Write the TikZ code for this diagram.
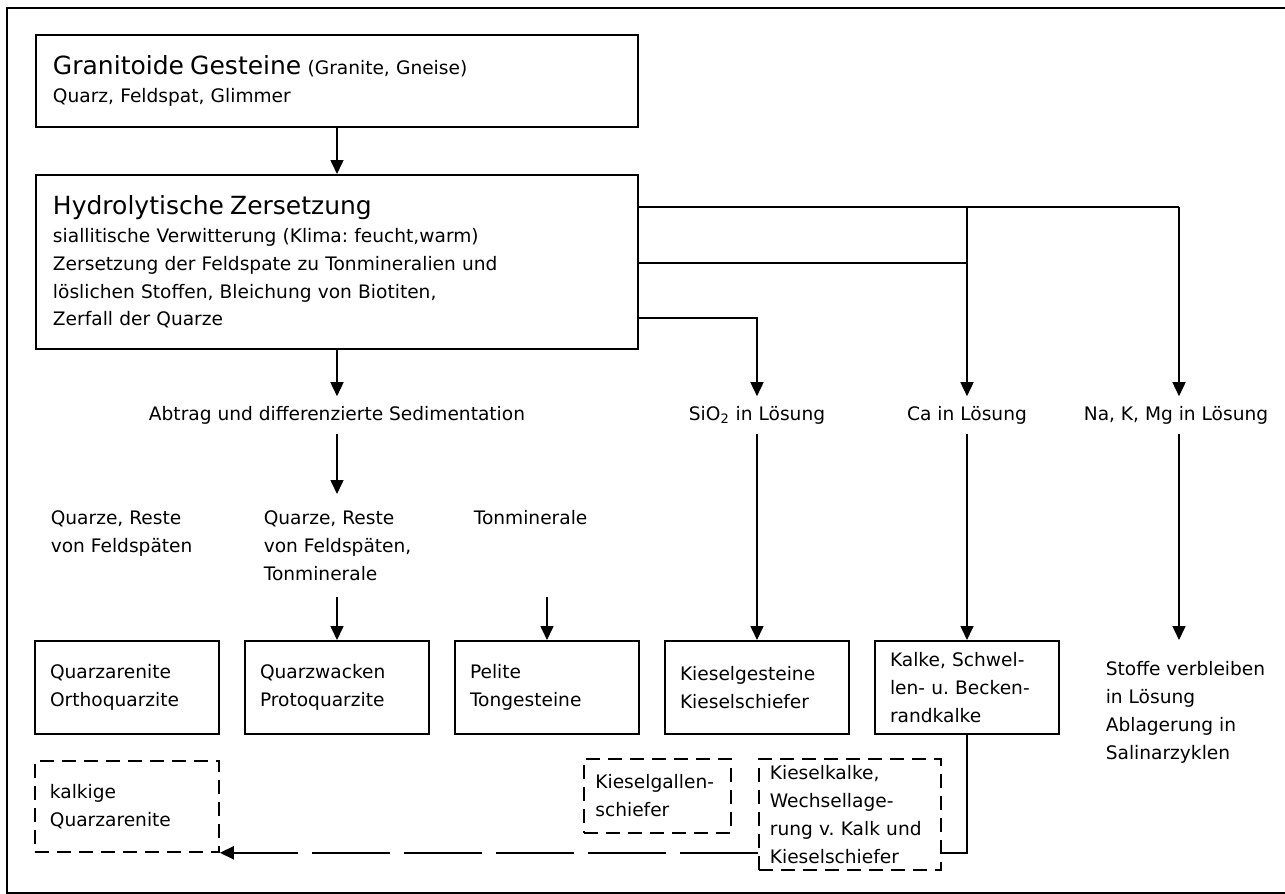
\documentclass[tikz,border=0pt]{standalone}
\usepackage{fontspec}
\setmainfont{DejaVu Sans}
\usetikzlibrary{arrows.meta,positioning}

\newcommand\hdfont{\fontsize{12.5}{15}\selectfont}

\begin{document}
\frenchspacing
\begin{tikzpicture}[
  x=0.5pt,y=-0.5pt,
  font=\fontsize{9.3}{13.9}\selectfont,
  line width=.8pt,
  box/.style={draw,line width=1pt,align=left,inner xsep=8.5pt,inner ysep=0pt},
  sbox/.style={box,text width=77pt,minimum height=46.5pt,inner xsep=7.5pt},
  dbox/.style={sbox,line width=.9pt,dash pattern=on 7pt off 4pt},
  txt/.style={align=left,inner xsep=0pt,inner ysep=8pt},
  row/.style={inner ysep=4.5pt},
  >/.tip={Triangle[length=7pt,width=6.5pt]},every edge/.style={draw,->}
]
\useasboundingbox (0,0) rectangle (1285,894);
\draw[line width=1pt] (1300,8) -- (7,8) -- (7,893) -- (1300,893);

% Ausgangsgestein und Verwitterung
\node[box,text width=284pt,minimum height=46pt,anchor=north west] (gran) at (35,34)
  {{\hdfont Granitoide Gesteine} (Granite, Gneise)\\Quarz, Feldspat, Glimmer};
\node[box,text width=284pt,minimum height=87pt,below=23pt of gran] (hydro)
  {{\hdfont Hydrolytische Zersetzung}\\siallitische Verwitterung (Klima: feucht,warm)\\
   Zersetzung der Feldspate zu Tonmineralien und\\löslichen Stoffen, Bleichung von Biotiten,\\
   Zerfall der Quarze};

% Gesteine
\node[sbox,anchor=north west] (qa) at (34,640) {Quarzarenite\\Orthoquarzite};
\node[sbox,right=12pt of qa] (qw) {Quarzwacken\\Protoquarzite};
\node[sbox,right=12pt of qw] (pel) {Pelite\\Tongesteine};
\node[sbox,right=12pt of pel] (kg) {Kieselgesteine\\Kieselschiefer};
\node[sbox,right=12pt of kg] (kalke) {Kalke, Schwel-\\len- u. Becken-\\randkalke};
\node[txt,inner ysep=0pt,anchor=north west] (stoffe) at (1105,661)
  {Stoffe verbleiben\\in Lösung\\Ablagerung in\\Salinarzyklen};

% Abtrag / Loesung
\node[row] (abtrag) at (hydro |- 0,415) {Abtrag und differenzierte Sedimentation};
\node[row] (sio) at (kg |- 0,415) {SiO\textsubscript{2} in Lösung};
\node[row] (ca) at (kalke |- 0,415) {Ca in Lösung};
\node[row] (nal) at (1176,415) {Na, K, Mg in Lösung};
\coordinate (na) at (1179,207);
\coordinate (mid) at (ca |- 0,263);
\coordinate (low) at (sio |- 0,318);

\node[txt,anchor=north west] (qr1) at (50,494) {Quarze, Reste\\von Feldspäten};
\node[txt,anchor=north west] (qr2) at (263,494) {Quarze, Reste\\von Feldspäten,\\Tonminerale};
\node[txt,anchor=north west] (ton) at (473,494) {Tonminerale};

% Mischgesteine
\node[dbox,anchor=north west,minimum height=45.5pt] (kq) at (34,760) {kalkige\\Quarzarenite};
\node[dbox,anchor=north west,text width=62pt,inner xsep=5.75pt,minimum height=37pt] (kgs) at (583,758)
  {Kieselgallen-\\schiefer};
\node[dbox,anchor=north west,text width=80pt,inner xsep=5.5pt,minimum height=55.5pt] (kk) at (758,758)
  {Kieselkalke,\\Wechsellage-\\rung v. Kalk und\\Kieselschiefer};

\draw (gran) edge (hydro);
\draw (hydro.south) edge (hydro.south |- abtrag.north);
\draw (abtrag.south) edge (abtrag.south |- qr2.north);
\draw (qr2.south -| qw.north) edge (qw);
\draw (qr2.south -| pel.north) edge (pel);
\draw (hydro.east |- na) -- (na) edge (na |- nal.north);
\draw (ca |- na) edge (ca);
\draw (hydro.east |- mid) -- (mid);
\draw[->] (hydro.east |- low) -| (sio.north);
\draw (sio) edge (kg);
\draw (ca) edge (kalke);
\draw (nal.south -| na) edge (na |- kalke.north);
\draw (kalke.south) |- (kk.east |- kq.south);
\draw (kk.west |- kq.south) edge[dash pattern=on 39pt off 7pt] (kq.south east);
\end{tikzpicture}
\end{document}
